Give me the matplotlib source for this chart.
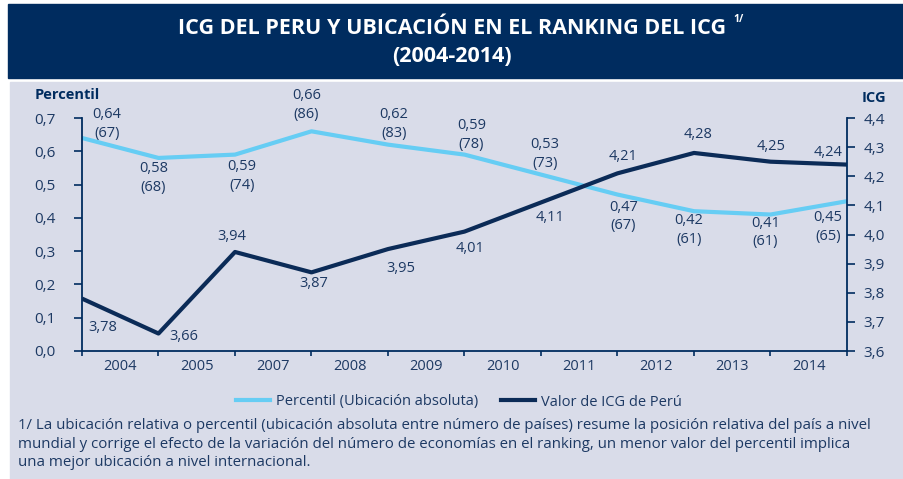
import matplotlib.pyplot as plt
from matplotlib.patches import Rectangle

plt.rcParams['font.family'] = ['Open Sans', 'DejaVu Sans']

# data
years = ['2004', '2005', '2007', '2008', '2009', '2010', '2011', '2012', '2013', '2014']
percentil = [0.64, 0.58, 0.59, 0.66, 0.62, 0.59, 0.53, 0.47, 0.42, 0.41, 0.45]
ranking = [67, 68, 74, 86, 83, 78, 73, 67, 61, 61, 65]
icg = [3.78, 3.66, 3.94, 3.87, 3.95, 4.01, 4.11, 4.21, 4.28, 4.25, 4.24]

navy = '#002c5f'
light = '#66cdf4'
dark = '#0b2b57'
txt = '#1d3963'
bg = '#d9dce9'

# label offsets in pixels (dx, dy) relative to each point
off_pct = [(25, 14), (-5, -20), (7, -21), (-5, 26), (6, 21), (7, 20), (4, 21), (6, -22), (-5, -19), (-5, -18), (-19, -26)]
off_icg = [(21, -29), (25, -3), (-3, 15), (2, -11), (13, -19), (6, -17), (9, -15), (6, 17), (4, 18), (1, 15), (-19, 12)]

fig = plt.figure(figsize=(9.04, 4.79), dpi=100)
fig.patch.set_facecolor('white')
fig.patches.append(Rectangle((10 / 904, 0), 894 / 904, 397 / 479,
                             transform=fig.transFigure, color=bg, zorder=-2))
fig.patches.append(Rectangle((8 / 904, 1 - 78 / 479), 896 / 904, 74 / 479,
                             transform=fig.transFigure, color=navy, zorder=-2))

fig.text(452 / 904, 1 - 29 / 479, 'ICG DEL PERU Y UBICACIÓN EN EL RANKING DEL ICG',
         ha='center', va='center', color='white', fontsize=15.5, fontweight='bold')
fig.text(733 / 904, 1 - 20 / 479, '1/', ha='left', va='center',
         color='white', fontsize=7.5, fontweight='bold')
fig.text(0.5, 1 - 56 / 479, '(2004-2014)', ha='center', va='center',
         color='white', fontsize=15.5, fontweight='bold')

ax = fig.add_axes([82 / 904, 1 - 351 / 479, 765 / 904, 233 / 479])
ax.set_facecolor('none')
ax2 = ax.twinx()

x = list(range(len(percentil)))
ax.plot(x, percentil, color=light, lw=3, solid_capstyle='butt')
ax2.plot(x, icg, color=dark, lw=3, solid_capstyle='butt')

ax.set_xlim(0, 10)
ax.set_ylim(0, 0.7)
ax2.set_ylim(3.6, 4.4)

ax.set_xticks(x)
ax.set_xticklabels([])
ax.set_xticks([i + 0.5 for i in range(len(years))], minor=True)
ax.set_xticklabels(years, minor=True)
ax.tick_params(axis='x', which='minor', length=0, pad=6, labelsize=10.5, labelcolor=txt)
ax.tick_params(axis='x', which='major', length=3.5, color=navy, width=1.2)

ax.set_yticks([i / 10 for i in range(8)])
ax.set_yticklabels([f'{v / 10:.1f}'.replace('.', ',') for v in range(8)])
ax2.set_yticks([3.6 + i / 10 for i in range(9)])
ax2.set_yticklabels([f'{3.6 + i / 10:.1f}'.replace('.', ',') for i in range(9)])
ax.tick_params(axis='y', length=5.8, color=navy, width=1.2, labelsize=11, labelcolor=txt, pad=13)
ax2.tick_params(axis='y', length=5.8, color=navy, width=1.2, labelsize=11, labelcolor=txt, pad=6)
for a in (ax, ax2):
    for s in a.spines.values():
        s.set_visible(False)
ax.spines['left'].set_visible(True)
ax.spines['bottom'].set_visible(True)
ax2.spines['right'].set_visible(True)
for s in (ax.spines['left'], ax.spines['bottom'], ax2.spines['right']):
    s.set_color(navy)
    s.set_linewidth(1.3)

for i, (p, r) in enumerate(zip(percentil, ranking)):
    ax.annotate(f'{p:.2f}'.replace('.', ',') + f'\n({r})', (i, p),
                xytext=off_pct[i], textcoords='offset pixels', ha='center', va='center',
                color=txt, fontsize=10.5, linespacing=1.35)
for i, v in enumerate(icg):
    ax2.annotate(f'{v:.2f}'.replace('.', ','), (i, v),
                 xytext=off_icg[i], textcoords='offset pixels', ha='center', va='center',
                 color=txt, fontsize=10.5)

fig.text(35 / 904, 1 - 95 / 479, 'Percentil', ha='left', va='center',
         color=navy, fontsize=10.5, fontweight='bold')
fig.text(874 / 904, 1 - 98 / 479, 'ICG', ha='center', va='center',
         color=navy, fontsize=10.5, fontweight='bold')

h1, = ax.plot([], [], color=light, lw=3)
h2, = ax.plot([], [], color=dark, lw=3)
fig.legend([h1, h2], ['Percentil (Ubicación absoluta)', 'Valor de ICG de Perú'],
           loc='center', bbox_to_anchor=(459 / 904, 1 - 402 / 479), ncol=2, frameon=False,
           fontsize=10.5, labelcolor=txt, handlelength=2.3, handletextpad=0.4, columnspacing=1.6)

note = ('1/ La ubicación relativa o percentil (ubicación absoluta entre número de países) resume la posición relativa del país a nivel\n'
        'mundial y corrige el efecto de la variación del número de economías en el ranking, un menor valor del percentil implica\n'
        'una mejor ubicación a nivel internacional.')
fig.text(18 / 904, 1 - 418 / 479, note, ha='left', va='top', color=txt,
         fontsize=10.85, linespacing=1.33)

fig.savefig('out.png', dpi=100, facecolor=fig.get_facecolor())
